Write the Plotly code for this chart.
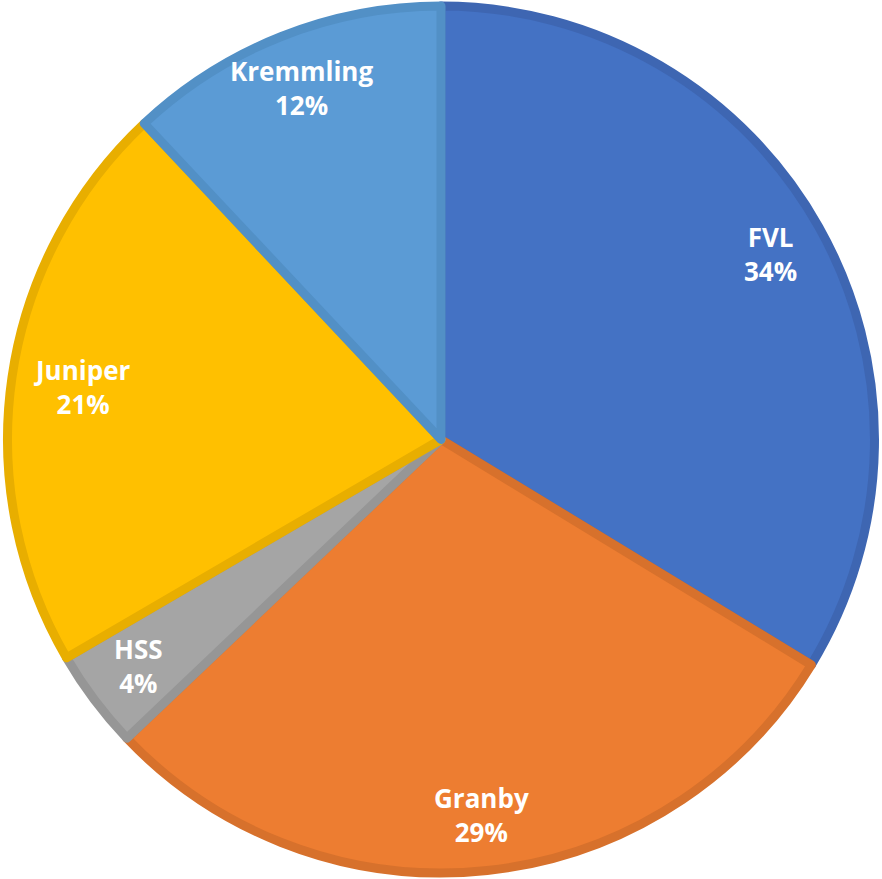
import math
import plotly.graph_objects as go

labels = ["FVL", "Granby", "HSS", "Juniper", "Kremmling"]
values = [33.7, 29.2, 3.7, 21.4, 12.0]
fill_colors = ["#4472C4", "#ED7D31", "#A5A5A5", "#FFC000", "#5B9BD5"]
edge_colors = ["#3E66B2", "#D7712C", "#969696", "#E8AE00", "#5290C6"]
label_radius = [0.865, 0.865, 0.865, 0.83, 0.865]

W, H = 882, 879
M = 6
fig = go.Figure(go.Pie(
    labels=labels,
    values=values,
    sort=False,
    direction="clockwise",
    rotation=0,
    textinfo="none",
    hoverinfo="label+percent",
    marker=dict(colors=fill_colors, line=dict(color=edge_colors, width=9)),
    showlegend=False,
))

# label positions derived from slice mid-angles
total = sum(values)
pw, ph = W - 2 * M, H - 2 * M
r_px = 437
cum = 0.0
for lab, v, rf in zip(labels, values, label_radius):
    mid = (cum + v / 2) / total * 2 * math.pi
    cum += v
    dx = rf * r_px * math.sin(mid)
    dy = rf * r_px * math.cos(mid)
    fig.add_annotation(
        x=0.5 + dx / pw, y=0.5 + dy / ph, xref="paper", yref="paper",
        xanchor="center", yanchor="middle",
        text=f"<b>{lab}<br>{round(v / total * 100):.0f}%</b>",
        showarrow=False,
        font=dict(family="Open Sans", size=26, color="white"),
        align="center",
    )

fig.update_layout(
    width=W, height=H,
    margin=dict(l=M, r=M, t=M, b=M),
    paper_bgcolor="white",
    plot_bgcolor="white",
)
fig.write_html("out.html", config={"displayModeBar": False},
               post_script="document.body.style.margin='0';document.body.style.overflow='hidden';")
